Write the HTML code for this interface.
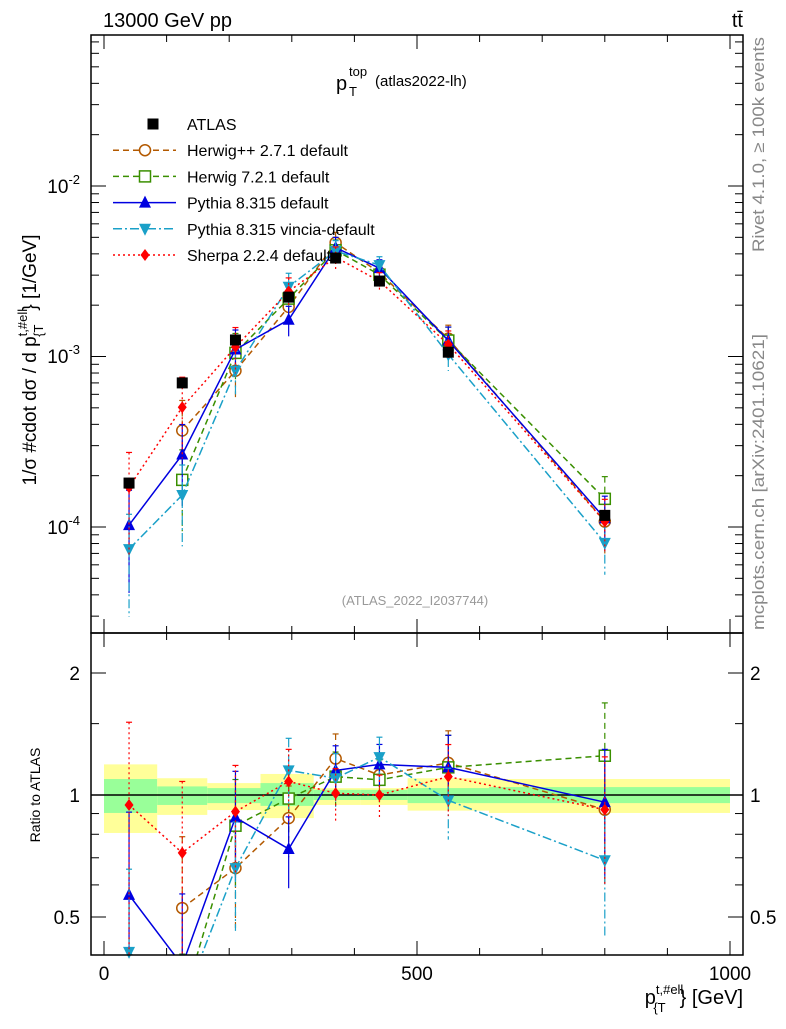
<!DOCTYPE html>
<html><head><meta charset="utf-8"><style>
body{margin:0;background:#fff}
svg text{font-family:"Liberation Sans",sans-serif}
</style></head><body>
<svg id="c" width="786" height="1024" xmlns="http://www.w3.org/2000/svg">
<g id="bands"></g>
<g id="axes"></g>
<g id="series"></g>
<rect x="91" y="35" width="652" height="598" fill="none" stroke="#000" stroke-width="1.5"/>
<rect x="91" y="633" width="652" height="322" fill="none" stroke="#000" stroke-width="1.5"/>
<text x="103" y="27" font-size="20">13000 GeV pp</text>
<text x="743" y="27" font-size="20" text-anchor="end">tt̄</text>
<g>
<text x="336" y="90" font-size="20">p</text>
<text x="349" y="76" font-size="13">top</text>
<text x="349" y="96" font-size="13">T</text>
<text x="375" y="86" font-size="15">(atlas2022-lh)</text>
</g>
<text transform="translate(36,360) rotate(-90)" font-size="19" text-anchor="middle">1/σ #cdot dσ / d p<tspan font-size="13" dy="-9">t,#ell</tspan><tspan font-size="13" dx="-28" dy="16">{T</tspan><tspan dx="14" dy="-7">} [1/GeV]</tspan></text>
<text transform="translate(40,795) rotate(-90)" font-size="14" text-anchor="middle">Ratio to ATLAS</text>
<text x="743" y="1004" font-size="20" text-anchor="end">p<tspan font-size="13" dy="-10">t,#ell</tspan><tspan font-size="13" dx="-30" dy="18">{T</tspan><tspan dx="14" dy="-8">} [GeV]</tspan></text>
<text transform="translate(764,252) rotate(-90)" font-size="16.5" textLength="215" lengthAdjust="spacingAndGlyphs" fill="#888">Rivet 4.1.0, ≥ 100k events</text>
<text transform="translate(764,630) rotate(-90)" font-size="16.5" textLength="296" lengthAdjust="spacingAndGlyphs" fill="#888">mcplots.cern.ch [arXiv:2401.10621]</text>
<text x="415" y="605" font-size="13" fill="#999" text-anchor="middle">(ATLAS_2022_I2037744)</text>
<g id="legend"></g>
</svg>
<script>
const xPts=[40,125,210,295,370,440,550,800];
const binEdges=[0,85,165,250,335,410,485,615,1000];
const atlas=[1.81e-4,7.0e-4,1.25e-3,2.23e-3,3.78e-3,2.77e-3,1.06e-3,1.17e-4];
const yellowHi=[1.19,1.10,1.07,1.127,1.04,1.04,1.10,1.095];
const yellowLo=[0.806,0.893,0.918,0.877,0.945,0.945,0.915,0.903];
const greenHi=[1.095,1.05,1.04,1.07,1.03,1.03,1.04,1.046];
const greenLo=[0.903,0.945,0.955,0.94,0.972,0.972,0.955,0.955];
const rHerwigpp=[null,0.526,0.66,0.877,1.23,1.12,1.2,0.92];
const rHerwig7=[null,0.27,0.84,0.98,1.11,1.09,1.17,1.25];
const rPythia=[0.567,0.38,0.88,0.736,1.15,1.19,1.17,0.96];
const rVincia=[0.41,0.22,0.66,1.15,1.1,1.24,0.97,0.69];
const rSherpa=[0.945,0.72,0.91,1.08,1.01,1.0,1.11,0.92];
const relErr=[0.6,0.5,0.3,0.2,0.15,0.12,0.2,0.35];
const NS="http://www.w3.org/2000/svg";
const X=v=>104+v*0.626;
const YM=v=>186-(Math.log10(v)+2)*170.5;
const YR=r=>795-Math.log2(r)*122;
function mk(t,a,p){const e=document.createElementNS(NS,t);for(const k in a)e.setAttribute(k,a[k]);(p||document.getElementById('series')).appendChild(e);return e;}
const clip=(v,a,b)=>Math.max(a,Math.min(b,v));
const bg=document.getElementById('bands');
for(let i=0;i<8;i++){
 const x0=X(binEdges[i]),x1=X(binEdges[i+1]);
 let e=mk('rect',{x:x0,y:YR(yellowHi[i]),width:x1-x0,height:YR(yellowLo[i])-YR(yellowHi[i]),fill:'#ffff99'},bg);
 
 e=mk('rect',{x:x0,y:YR(greenHi[i]),width:x1-x0,height:YR(greenLo[i])-YR(greenHi[i]),fill:'#99ff99'},bg);
 
}
let l=mk('line',{x1:91,x2:743,y1:YR(1),y2:YR(1),stroke:'#000','stroke-width':1.5},bg);

const ax=document.getElementById('axes');
function tk(x1,y1,x2,y2){mk('line',{x1,y1,x2,y2,stroke:'#000','stroke-width':1},ax);}
for(let v=0;v<=1000;v+=100){const x=X(v),L=v%500==0?14:7;tk(x,35,x,35+L);tk(x,633,x,633-L);tk(x,633,x,633+L);tk(x,955,x,955-L);}
[0,500,1000].forEach(v=>{const t=mk('text',{x:X(v),y:980,'font-size':19,'text-anchor':'middle'},ax);t.textContent=v;});
for(let d=-5;d<=-1;d++)for(let m=1;m<10;m++){const v=m*Math.pow(10,d),y=YM(v);if(y<35||y>633)continue;const L=m==1?15:8;tk(91,y,91+L,y);tk(743,y,743-L,y);}
[[-2,186],[-3,356],[-4,527]].forEach(([e,y])=>{const t=mk('text',{x:80,y:y+7,'font-size':19,'text-anchor':'end'},ax);t.innerHTML='10<tspan font-size="13" dy="-9">'+e+'</tspan>';});
[0.5,0.6,0.7,0.8,0.9,1,2,1.5].forEach(r=>{const y=YR(r),L=(r==0.5||r==1||r==2)?15:8;tk(91,y,91+L,y);tk(743,y,743-L,y);});
[[0.5,'0.5'],[1,'1'],[2,'2']].forEach(([r,s])=>{[80,750].forEach((xx,j)=>{const t=mk('text',{x:xx,y:YR(r)+7,'font-size':19,'text-anchor':j?'start':'end'},ax);t.textContent=s;});});
const models=[
 {n:'herwigpp',r:rHerwigpp,c:'#b35900',d:'6,4',m:'circle'},
 {n:'herwig7',r:rHerwig7,c:'#3a8f00',d:'6,4',m:'square'},
 {n:'pythia',r:rPythia,c:'#0000e0',d:'',m:'tri'},
 {n:'vincia',r:rVincia,c:'#1aa0c8',d:'9,3,2,3',m:'itri'},
 {n:'sherpa',r:rSherpa,c:'#ff0000',d:'2,3',m:'diamond'}];
function marker(g,type,x,y,c){
 let e;
 if(type=='circle')e=mk('circle',{cx:x,cy:y,r:5.5,fill:'#fff',stroke:c,'stroke-width':1.5},g);
 else if(type=='square')e=mk('rect',{x:x-5.5,y:y-5.5,width:11,height:11,fill:'#fff',stroke:c,'stroke-width':1.5},g);
 else if(type=='tri')e=mk('polygon',{points:`${x},${y-7} ${x-6},${y+5} ${x+6},${y+5}`,fill:c},g);
 else if(type=='itri')e=mk('polygon',{points:`${x},${y+7} ${x-6},${y-5} ${x+6},${y-5}`,fill:c},g);
 else if(type=='diamond')e=mk('polygon',{points:`${x},${y-6} ${x-4.5},${y} ${x},${y+6} ${x+4.5},${y}`,fill:c},g);
 else e=mk('rect',{x:x-5.5,y:y-5.5,width:11,height:11,fill:c},g);
 return e;
}
function draw(vals,isRatio,s){
 const g=mk('g',{});
 
 
 const Y=isRatio?YR:YM, lo=isRatio?633:35, hi=isRatio?955:633;
 let pts=[];
 vals.forEach((v,i)=>{if(v==null)return;pts.push([X(xPts[i]),clip(Y(v),lo-50,hi+50)]);});
 mk('path',{d:'M'+pts.map(p=>p.join(',')).join('L'),fill:'none',stroke:s.c,'stroke-width':1.5,'stroke-dasharray':s.d,'clip-path':isRatio?'url(#cr)':'url(#cm)'},g);
 vals.forEach((v,i)=>{if(v==null)return;const x=X(xPts[i]);
  const y1=clip(Y(v*(1+relErr[i])),lo,hi),y2=clip(Y(Math.max(v*(1-relErr[i]),1e-9)),lo,hi);
  mk('line',{x1:x,x2:x,y1,y2,stroke:s.c,'stroke-width':1.2,'stroke-dasharray':s.d},g);
  mk('line',{x1:x-3,x2:x+3,y1,y2:y1,stroke:s.c,'stroke-width':1.2},g);
  const y=Y(v);if(y<lo||y>hi)return;
  const e=marker(g,s.m,x,y,s.c);});
}
mk('defs',{}).innerHTML='<clipPath id="cm"><rect x="91" y="35" width="652" height="598"/></clipPath><clipPath id="cr"><rect x="91" y="633" width="652" height="322"/></clipPath>';
models.forEach(s=>{draw(s.r.map((r,i)=>r==null?null:r*atlas[i]),false,s);draw(s.r,true,s);});
atlas.forEach((v,i)=>{const e=marker(document.getElementById('series'),'sq',X(xPts[i]),YM(v),'#000');});
const lg=document.getElementById('legend');
const names=['ATLAS','Herwig++ 2.7.1 default','Herwig 7.2.1 default','Pythia 8.315 default','Pythia 8.315 vincia-default','Sherpa 2.2.4 default'];
names.forEach((n,i)=>{const y=124+i*26.2;const g=mk('g',{},lg);
 
 if(i==0)marker(g,'sq',153,y,'#000');else{const s=models[i-1];mk('line',{x1:113,x2:176,y1:y,y2:y,stroke:s.c,'stroke-width':1.5,'stroke-dasharray':s.d},g);marker(g,s.m,145,y,s.c);}
 const t=mk('text',{x:187,y:y+6,'font-size':16},g);t.textContent=n;});
</script>
</body></html>
